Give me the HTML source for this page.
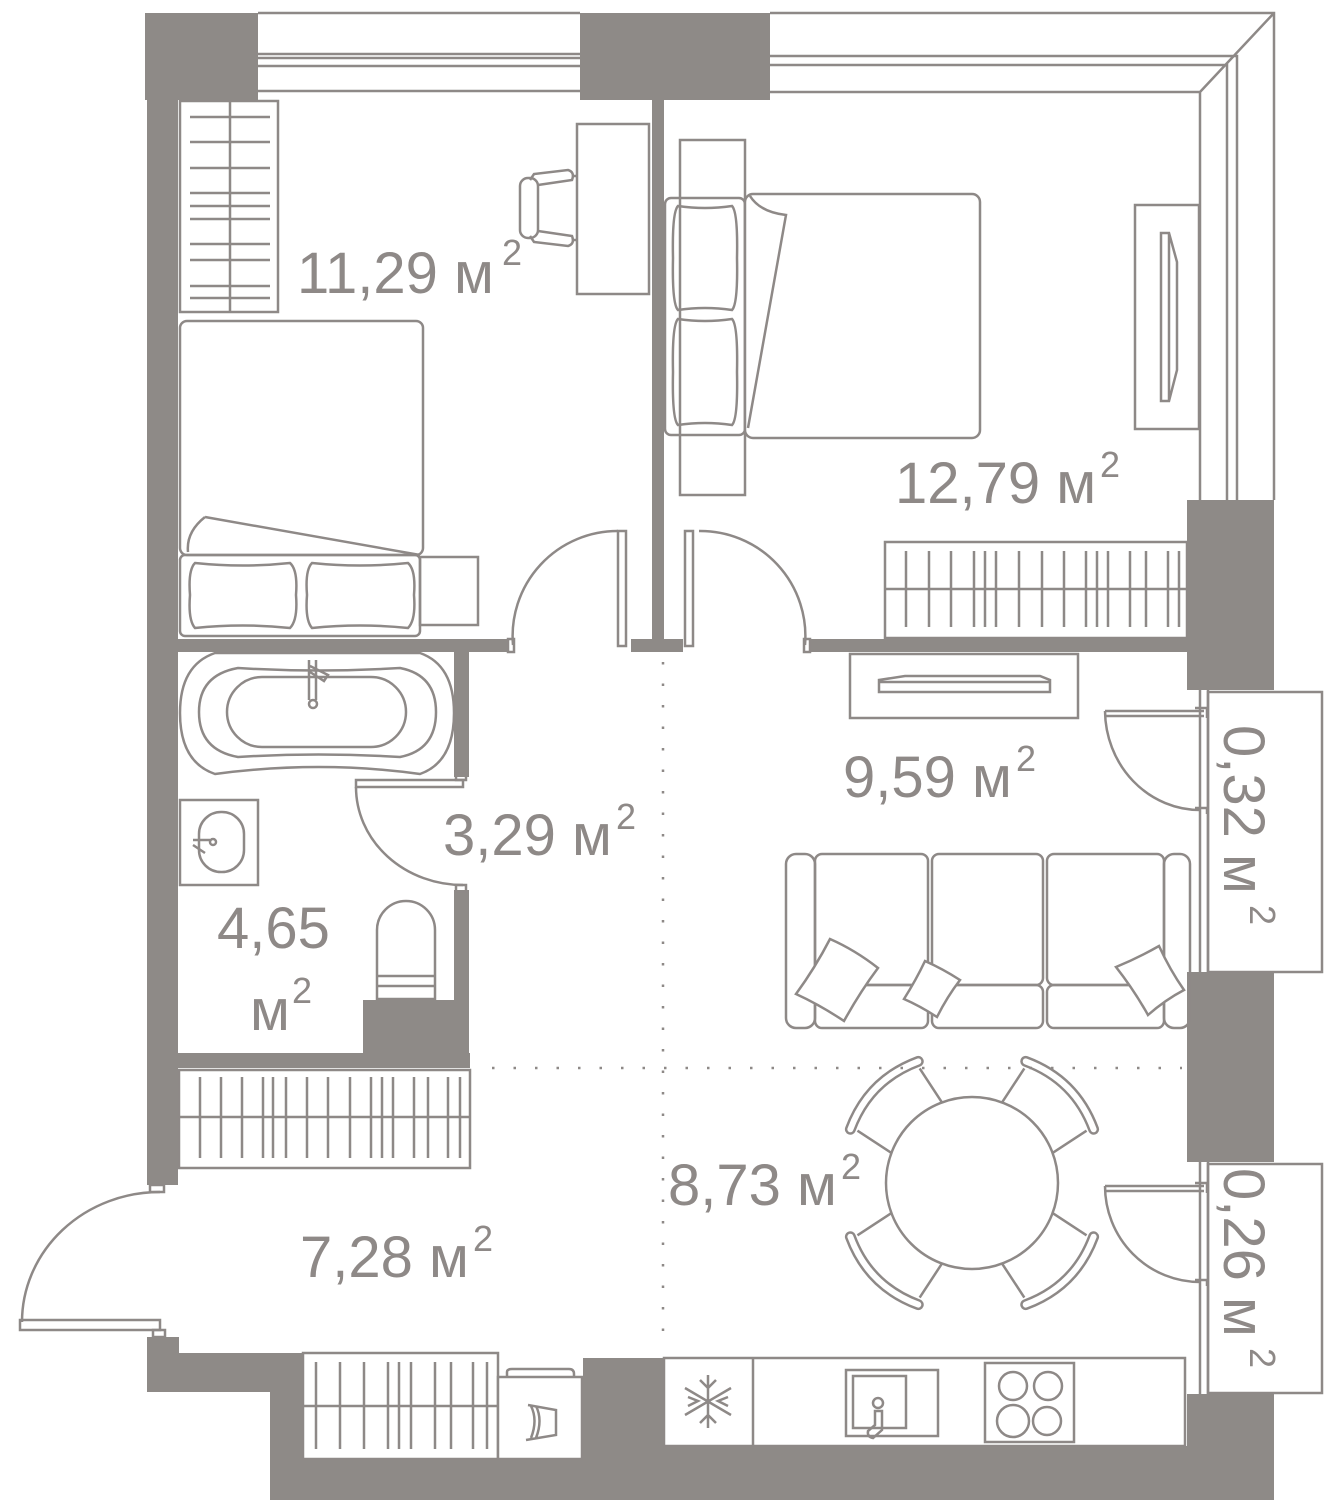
<!DOCTYPE html>
<html><head><meta charset="utf-8"><style>
html,body{margin:0;padding:0;background:#fff;}
svg{display:block;}
text{font-family:"Liberation Sans",sans-serif;fill:#8e8987;}
</style></head><body>
<svg width="1332" height="1500" viewBox="0 0 1332 1500" xmlns="http://www.w3.org/2000/svg">
<defs>
<g id="chair">
  <path d="M-34,-70 L-44,-118 M34,-70 L44,-118" stroke="#8e8987" stroke-width="2.5" fill="none"/>
  <path d="M-48,-124 Q0,-146 48,-124" stroke="#8e8987" stroke-width="11" fill="none" stroke-linecap="round"/>
  <path d="M-48,-124 Q0,-146 48,-124" stroke="#fff" stroke-width="6" fill="none" stroke-linecap="round"/>
</g>
</defs>
<g fill="#8e8a87">
  <rect x="145" y="13" width="113" height="87"/>
  <rect x="580" y="13" width="190" height="87"/>
  <rect x="147" y="100" width="31" height="1085"/>
  <rect x="652" y="100" width="12" height="540"/>
  <rect x="631" y="639" width="52" height="13"/>
  <rect x="178" y="639" width="330" height="13"/>
  <rect x="810" y="639" width="380" height="13"/>
  <rect x="1187" y="500" width="87" height="190"/>
  <rect x="1187" y="972" width="87" height="190"/>
  <rect x="1187" y="1394" width="87" height="106"/>
  <rect x="454" y="652" width="15" height="125"/>
  <rect x="454" y="890" width="15" height="178"/>
  <rect x="363" y="1000" width="106" height="68"/>
  <rect x="178" y="1053" width="292" height="15"/>
  <rect x="147" y="1337" width="32" height="55"/>
  <rect x="147" y="1353" width="156" height="39"/>
  <rect x="270" y="1353" width="33" height="147"/>
  <rect x="270" y="1446" width="1004" height="54"/>
  <rect x="303" y="1459" width="280" height="41"/>
  <rect x="583" y="1358" width="82" height="100"/>
</g>
<g fill="none" stroke="#8e8987" stroke-width="2.5">
  <path d="M258,13 H580 M258,54 H580 M258,58 H580 M258,66 H580 M258,91 H580"/>
  <path d="M770,13 H1274 V500 M770,56 H1237 V500 M770,65 H1227 V500 M770,92 H1200 V500 M1200,92 L1274,13"/>
  <rect x="180" y="101" width="98" height="211"/>
  <path d="M230,101 V312 M190,117 H270 M190,142 H270 M190,168 H270 M190,193 H270 M190,206 H270 M190,219 H270 M190,244 H270 M190,260 H270 M190,286 H270 M190,298 H270"/>
  <rect x="577" y="124" width="72" height="170"/>
  <rect x="520" y="178" width="18" height="60" rx="8"/>
  <path d="M530,180 L534,174 L568,170 Q575,172 572,180 L538,185 M530,236 L534,242 L568,246 Q575,244 572,236 L538,231 M572,176 H577 M572,240 H577"/>
  <rect x="180" y="321" width="243" height="234" rx="7"/>
  <path d="M205,517 L420,555 M205,517 Q186,532 188,552"/>
  <rect x="180" y="555" width="240" height="81" rx="5"/>
  <path d="M195,563 Q243,568 290,563 Q298,570 296,595 Q298,620 290,628 Q243,623 195,628 Q188,620 190,595 Q188,570 195,563Z"/>
  <path d="M312,563 Q360,568 408,563 Q416,570 414,595 Q416,620 408,628 Q360,623 312,628 Q305,620 307,595 Q305,570 312,563Z"/>
  <rect x="420" y="557" width="58" height="68"/>
  <path d="M513,645 A105,105 0 0 1 618,531"/>
  <rect x="618" y="531" width="8" height="115"/>
  <rect x="508" y="639" width="6" height="13"/>
  <path d="M699,531 A105,105 0 0 1 805,645"/>
  <rect x="685" y="531" width="8" height="115"/>
  <rect x="804" y="639" width="6" height="13"/>
  <rect x="680" y="140" width="65" height="355"/>
  <rect x="665" y="198" width="80" height="237" rx="6"/>
  <path d="M678,206 Q705,210 732,206 Q738,212 737,258 Q738,304 732,310 Q705,306 678,310 Q672,304 673,258 Q672,212 678,206Z"/>
  <path d="M678,319 Q705,323 732,319 Q738,325 737,372 Q738,419 732,425 Q705,421 678,425 Q672,419 673,372 Q672,325 678,319Z"/>
  <rect x="745" y="194" width="235" height="244" rx="8" fill="#fff"/>
  <path d="M750,196 Q760,212 786,215 L748,428"/>
  <rect x="1135" y="205" width="64" height="224"/>
  <path d="M1161,233 H1169 L1177,262 V370 L1169,401 H1161 Z M1169,233 V401"/>
  <rect x="885" y="542" width="302" height="96"/>
  <path d="M885,589 H1187 M906,551 V627 M929,551 V627 M951,551 V627 M974,551 V627 M985,551 V627 M996,551 V627 M1019,551 V627 M1042,551 V627 M1064,551 V627 M1086,551 V627 M1097,551 V627 M1108,551 V627 M1130,551 V627 M1146,551 V627 M1168,551 V627 M1179,551 V627"/>
  <rect x="850" y="654" width="228" height="64"/>
  <path d="M879,680 L905,676 H1040 L1050,680 V692 H879 Z M879,682 H1050"/>
  <path d="M1200,690 V972 M1208,690 V972"/>
  <rect x="1208" y="692" width="114" height="280"/>
  <path d="M1105,711 H1204 M1105,716 H1204 M1105,711 A95,100 0 0 0 1200,810 M1195,708 H1207 V718 M1195,808 H1207 V814"/>
  <path d="M1200,1162 V1394 M1208,1162 V1394"/>
  <rect x="1208" y="1164" width="114" height="229"/>
  <path d="M1105,1186 H1204 M1105,1191 H1204 M1105,1186 A95,96 0 0 0 1200,1282 M1195,1183 H1207 V1193 M1195,1280 H1207 V1286"/>
  <rect x="786" y="854" width="29" height="174" rx="10"/>
  <rect x="1164" y="854" width="26" height="174" rx="10"/>
  <rect x="815" y="854" width="113" height="131" rx="7"/>
  <rect x="932" y="854" width="111" height="131" rx="7"/>
  <rect x="1047" y="854" width="117" height="131" rx="7"/>
  <rect x="815" y="985" width="113" height="43" rx="7"/>
  <rect x="932" y="985" width="111" height="43" rx="7"/>
  <rect x="1047" y="985" width="117" height="43" rx="7"/>
  <path d="M830,939 Q855,950 878,968 Q860,992 844,1021 Q820,1005 796,994 Q815,968 830,939Z" fill="#fff"/>
  <path d="M925,961 Q943,969 960,980 Q947,997 937,1017 Q920,1006 904,999 Q916,980 925,961Z" fill="#fff"/>
  <path d="M1159,946 Q1170,970 1184,990 Q1165,1000 1148,1015 Q1134,990 1116,967 Q1138,958 1159,946Z" fill="#fff"/>
  <g transform="translate(972,1183)">
    <use href="#chair" transform="rotate(-45)"/>
    <use href="#chair" transform="rotate(45)"/>
    <use href="#chair" transform="rotate(135)"/>
    <use href="#chair" transform="rotate(225)"/>
    <circle cx="0" cy="0" r="86" fill="#fff"/>
  </g>
  <rect x="664" y="1358" width="521" height="88"/>
  <path d="M753,1358 V1446"/>
  <rect x="846" y="1370" width="92" height="66"/>
  <rect x="853" y="1376" width="53" height="52"/>
  <circle cx="878" cy="1403" r="5"/>
  <path d="M875,1411 H882 V1430 L873,1438 Q867,1437 868,1431 L875,1425 Z"/>
  <rect x="985" y="1363" width="89" height="79"/>
  <circle cx="1013" cy="1386" r="14"/><circle cx="1048" cy="1386" r="14"/>
  <circle cx="1013" cy="1421" r="16"/><circle cx="1047" cy="1421" r="14"/>
  <path d="M708,1375 V1428 M685,1388 L731,1415 M685,1415 L731,1388 M700,1380 L708,1388 L716,1380 M700,1423 L708,1415 L716,1423 M688,1397 L698,1401 L688,1406 M728,1397 L718,1401 L728,1406"/>
  <path d="M215,653 H420 Q454,665 454,713 Q454,762 420,774 Q320,760 215,774 Q180,762 180,713 Q180,665 215,653Z"/>
  <path d="M238,668 Q318,673 400,668 Q436,675 436,712 Q436,750 400,757 Q318,752 238,757 Q199,750 199,712 Q199,675 238,668Z"/>
  <rect x="227" y="677" width="179" height="70" rx="35"/>
  <path d="M309,660 V700 M316,660 V700 M310,666 L328,675 L324,681 L310,672"/>
  <circle cx="313" cy="704" r="4"/>
  <path d="M356,787 A107,98 0 0 0 463,885"/>
  <rect x="356" y="780" width="107" height="7"/>
  <rect x="456" y="773" width="10" height="7"/>
  <rect x="456" y="885" width="10" height="7"/>
  <rect x="180" y="800" width="78" height="85"/>
  <rect x="199" y="812" width="45" height="60" rx="22"/>
  <path d="M193,840 L210,840 M193,845 L205,853"/>
  <circle cx="213" cy="842" r="3"/>
  <path d="M377,999 V930 A29,29 0 0 1 435,930 V999 Z M377,976 H435 M377,986 H435"/>
  <rect x="179" y="1070" width="291" height="98"/>
  <path d="M179,1117 H470 M200,1077 V1158 M221,1077 V1158 M242,1077 V1158 M263,1077 V1158 M273,1077 V1158 M286,1077 V1158 M307,1077 V1158 M328,1077 V1158 M350,1077 V1158 M371,1077 V1158 M382,1077 V1158 M393,1077 V1158 M414,1077 V1158 M428,1077 V1158 M448,1077 V1158 M460,1077 V1158"/>
  <rect x="150" y="1185" width="14" height="7"/>
  <path d="M160,1192 A138,130 0 0 0 22,1322"/>
  <rect x="20" y="1320" width="140" height="10"/>
  <rect x="153" y="1330" width="12" height="7"/>
  <rect x="303" y="1353" width="195" height="106" fill="#fff"/>
  <path d="M303,1406 H498 M316,1362 V1449 M340,1362 V1449 M364,1362 V1449 M388,1362 V1449 M399,1362 V1449 M411,1362 V1449 M435,1362 V1449 M451,1362 V1449 M473,1362 V1449 M487,1362 V1449"/>
  <rect x="498" y="1377" width="84" height="82" fill="#fff"/>
  <path d="M507,1377 V1372 Q507,1369 512,1369 H569 Q574,1369 574,1374 V1377"/>
  <path d="M528,1405 L556,1410 V1435 L526,1440 M531,1406 Q538,1420 531,1438 M536,1406 Q543,1420 536,1438"/>
</g>
<g stroke="#8e8987" stroke-width="2.5" stroke-dasharray="2.5 19" fill="none">
  <path d="M663,662 V1340"/>
  <path d="M492,1068 H1182"/>
</g>
<g font-size="58">
  <text x="297" y="293">11,29 м</text>
  <text x="502" y="265" font-size="36">2</text>
  <text x="895" y="503">12,79 м</text>
  <text x="1100" y="477" font-size="36">2</text>
  <text x="843" y="797">9,59 м</text>
  <text x="1016" y="771" font-size="36">2</text>
  <text x="443" y="855">3,29 м</text>
  <text x="616" y="829" font-size="36">2</text>
  <text x="217" y="948">4,65</text>
  <text x="250" y="1030">м</text>
  <text x="292" y="1003" font-size="36">2</text>
  <text x="300" y="1277">7,28 м</text>
  <text x="473" y="1251" font-size="36">2</text>
  <text x="668" y="1205">8,73 м</text>
  <text x="841" y="1179" font-size="36">2</text>
  <g transform="translate(1224,725) rotate(90)">
    <text x="0" y="0">0,32 м</text>
    <text x="180" y="-26" font-size="36">2</text>
  </g>
  <g transform="translate(1224,1168) rotate(90)">
    <text x="0" y="0">0,26 м</text>
    <text x="180" y="-26" font-size="36">2</text>
  </g>
</g>
</svg>
</body></html>
